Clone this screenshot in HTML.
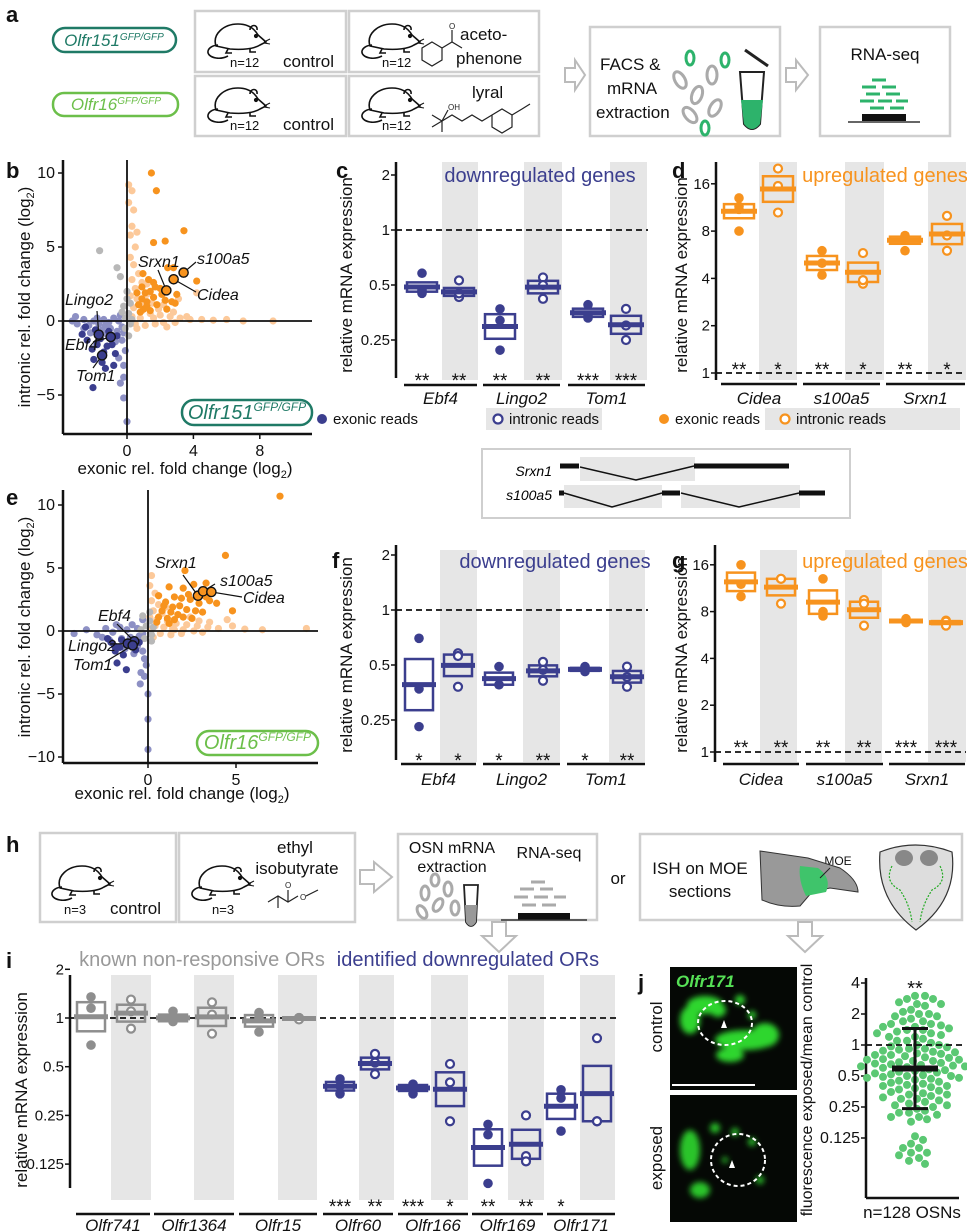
<!DOCTYPE html>
<html><head><meta charset="utf-8">
<style>
html,body{margin:0;padding:0;background:#fff;}
svg{display:block;font-family:"Liberation Sans",Arial,sans-serif;}
.it{font-style:italic;}
</style></head>
<body>
<svg id="fig" width="967" height="1232" viewBox="0 0 967 1232" xmlns="http://www.w3.org/2000/svg">
<defs>
<filter id="blur3" x="-50%" y="-50%" width="200%" height="200%"><feGaussianBlur stdDeviation="3"/></filter>
</defs>

<g font-weight="bold" font-size="22" fill="#111">
<text x="6" y="22">a</text>
<text x="6" y="178">b</text>
<text x="336" y="178">c</text>
<text x="672" y="178">d</text>
<text x="6" y="505">e</text>
<text x="332" y="568">f</text>
<text x="672" y="568">g</text>
<text x="6" y="852">h</text>
<text x="6" y="968">i</text>
<text x="638" y="990">j</text>
</g>

<g id="panelA">
<rect x="53" y="28" width="123" height="24" rx="12" fill="none" stroke="#1f7a66" stroke-width="2.5"/>
<text x="114" y="46" text-anchor="middle" fill="#1f7a66" font-size="17" class="it">Olfr151<tspan font-size="10" dy="-6">GFP/GFP</tspan></text>
<rect x="53" y="93" width="125" height="23" rx="11" fill="none" stroke="#6cbf4a" stroke-width="2.5"/>
<text x="116" y="110" text-anchor="middle" fill="#6cbf4a" font-size="17" class="it">Olfr16<tspan font-size="10" dy="-6">GFP/GFP</tspan></text>
<g fill="none" stroke="#cfcfcf" stroke-width="2.5">
<rect x="195" y="11" width="151" height="61"/>
<rect x="349" y="11" width="190" height="61"/>
<rect x="195" y="76" width="151" height="60"/>
<rect x="349" y="76" width="190" height="60"/>
<rect x="590" y="27" width="190" height="109"/>
<rect x="820" y="27" width="130" height="109"/>
</g>
<g font-size="17" fill="#111">
<text x="230" y="67" font-size="13">n=12</text>
<text x="283" y="67">control</text>
<text x="382" y="67" font-size="13">n=12</text>
<text x="460" y="40">aceto-</text>
<text x="456" y="64">phenone</text>
<text x="230" y="130" font-size="13">n=12</text>
<text x="283" y="130">control</text>
<text x="382" y="130" font-size="13">n=12</text>
<text x="472" y="98">lyral</text>
<text x="600" y="70">FACS &amp;</text>
<text x="607" y="94">mRNA</text>
<text x="596" y="118">extraction</text>
<text x="885" y="60" text-anchor="middle">RNA-seq</text>
</g>
<g fill="none" stroke="#222" stroke-width="1.2">
<polygon points="432,42 442,48 442,60 432,66 422,60 422,48"/>
<polyline points="442,48 452,42 462,48"/><line x1="452" y1="42" x2="452" y2="30"/>
<text x="449" y="29" font-size="8" fill="#222" stroke="none">O</text>
</g>
<g fill="none" stroke="#222" stroke-width="1.2">
<polyline points="432,115 442,121 452,115 462,121 472,115 482,121 492,115"/>
<line x1="442" y1="121" x2="442" y2="132"/><line x1="442" y1="121" x2="432" y2="127"/>
<line x1="442" y1="121" x2="448" y2="110"/>
<text x="448" y="110" font-size="8" fill="#222" stroke="none">OH</text>
<polygon points="492,115 502,109 512,115 512,127 502,133 492,127"/>
<polyline points="512,115 522,109 530,104"/>
</g>
<g>
<ellipse cx="680" cy="80" rx="5" ry="9" fill="none" stroke="#aaa" stroke-width="3" transform="rotate(-30 680 80)"/>
<ellipse cx="697" cy="95" rx="5" ry="9" fill="none" stroke="#aaa" stroke-width="3" transform="rotate(20 697 95)"/>
<ellipse cx="712" cy="75" rx="5" ry="9" fill="none" stroke="#aaa" stroke-width="3"/>
<ellipse cx="690" cy="115" rx="5" ry="9" fill="none" stroke="#aaa" stroke-width="3" transform="rotate(-40 690 115)"/>
<ellipse cx="715" cy="108" rx="5" ry="9" fill="none" stroke="#aaa" stroke-width="3" transform="rotate(30 715 108)"/>
<ellipse cx="690" cy="58" rx="4" ry="7" fill="none" stroke="#2db36b" stroke-width="3"/>
<ellipse cx="725" cy="60" rx="4" ry="7" fill="none" stroke="#2db36b" stroke-width="3"/>
<ellipse cx="705" cy="128" rx="4" ry="7" fill="none" stroke="#2db36b" stroke-width="3"/>
<path d="M740,72 L764,72 L760,124 Q752,134 744,124 Z" fill="#fff" stroke="#222" stroke-width="2"/>
<path d="M741,100 L763,100 L760,124 Q752,134 744,124 Z" fill="#2db36b"/>
<line x1="745" y1="50" x2="768" y2="66" stroke="#222" stroke-width="3"/>
</g>
<g stroke="#2db36b" stroke-width="3">
<line x1="872" y1="80" x2="886" y2="80"/><line x1="862" y1="87" x2="876" y2="87"/><line x1="882" y1="87" x2="896" y2="87"/>
<line x1="866" y1="94" x2="880" y2="94"/><line x1="886" y1="94" x2="900" y2="94"/>
<line x1="860" y1="101" x2="874" y2="101"/><line x1="878" y1="101" x2="892" y2="101"/><line x1="896" y1="101" x2="908" y2="101"/>
<line x1="870" y1="108" x2="884" y2="108"/><line x1="890" y1="108" x2="904" y2="108"/>
</g>
<rect x="862" y="114" width="44" height="7" fill="#111"/>
<line x1="848" y1="122" x2="920" y2="122" stroke="#333" stroke-width="1.5"/>
<polygon points="565,68 575,68 575,60 585,75 575,90 575,82 565,82" fill="#fff" stroke="#bbb" stroke-width="2"/>
<polygon points="786,68 796,68 796,60 808,75 796,90 796,82 786,82" fill="#fff" stroke="#bbb" stroke-width="2"/>
</g>

<g>
<rect x="482" y="449" width="368" height="69" fill="none" stroke="#cfcfcf" stroke-width="2"/>
<rect x="580" y="457" width="115" height="24" fill="#e6e6e6"/>
<rect x="564" y="485" width="98" height="23" fill="#e6e6e6"/>
<rect x="681" y="485" width="119" height="23" fill="#e6e6e6"/>
<text x="552" y="476" text-anchor="end" font-size="14" class="it">Srxn1</text>
<text x="552" y="500" text-anchor="end" font-size="14" class="it">s100a5</text>
<g stroke="#111" fill="none">
<line x1="560" y1="466" x2="579" y2="466" stroke-width="5"/>
<polyline points="580,467 636,480 694,466" stroke-width="1.5"/>
<line x1="694" y1="466" x2="789" y2="466" stroke-width="5"/>
<line x1="559" y1="493" x2="564" y2="493" stroke-width="5"/>
<polyline points="564,493 612,507 662,493" stroke-width="1.5"/>
<line x1="662" y1="493" x2="680" y2="493" stroke-width="5"/>
<polyline points="681,493 739,507 799,493" stroke-width="1.5"/>
<line x1="799" y1="493" x2="825" y2="493" stroke-width="5"/>
</g>
</g>

<g id="panelH">
<g fill="none" stroke="#cfcfcf" stroke-width="2.5">
<rect x="40" y="833" width="136" height="89"/>
<rect x="179" y="833" width="176" height="89"/>
<rect x="398" y="834" width="199" height="86"/>
<rect x="640" y="834" width="322" height="86"/>
</g>
<g font-size="17" fill="#111">
<text x="64" y="914" font-size="13">n=3</text>
<text x="110" y="914">control</text>
<text x="212" y="914" font-size="13">n=3</text>
<text x="295" y="853" text-anchor="middle">ethyl</text>
<text x="297" y="874" text-anchor="middle">isobutyrate</text>
<text x="452" y="853" text-anchor="middle" font-size="16">OSN mRNA</text>
<text x="452" y="872" text-anchor="middle" font-size="16">extraction</text>
<text x="549" y="858" text-anchor="middle" font-size="16">RNA-seq</text>
<text x="618" y="884" text-anchor="middle">or</text>
<text x="700" y="874" text-anchor="middle">ISH on MOE</text>
<text x="700" y="897" text-anchor="middle">sections</text>
<text x="838" y="865" text-anchor="middle" font-size="12">MOE</text>
</g>
<g fill="none" stroke="#222" stroke-width="1.2">
<polyline points="268,902 278,896 288,902 298,896"/><line x1="278" y1="896" x2="278" y2="908"/>
<line x1="288" y1="902" x2="288" y2="890"/><text x="285" y="888" font-size="8" fill="#222" stroke="none">O</text>
<text x="300" y="900" font-size="8" fill="#222" stroke="none">O</text><line x1="306" y1="896" x2="318" y2="890"/>
</g>
<g fill="none" stroke="#aaa" stroke-width="3">
<ellipse cx="425" cy="893" rx="4" ry="7"/><ellipse cx="438" cy="905" rx="4" ry="7" transform="rotate(30 438 905)"/>
<ellipse cx="448" cy="889" rx="4" ry="7"/><ellipse cx="422" cy="912" rx="4" ry="7" transform="rotate(-30 422 912)"/>
<ellipse cx="455" cy="908" rx="4" ry="7"/><ellipse cx="435" cy="880" rx="4" ry="6"/>
</g>
<path d="M464,885 L478,885 L476,922 Q471,930 466,922 Z" fill="#fff" stroke="#222" stroke-width="1.8"/>
<path d="M465,905 L477,905 L476,922 Q471,930 466,922 Z" fill="#999"/>
<g stroke="#aaa" stroke-width="3">
<line x1="531" y1="882" x2="545" y2="882"/><line x1="520" y1="889" x2="534" y2="889"/><line x1="540" y1="889" x2="553" y2="889"/>
<line x1="514" y1="897" x2="528" y2="897"/><line x1="534" y1="897" x2="548" y2="897"/><line x1="554" y1="897" x2="566" y2="897"/>
<line x1="522" y1="905" x2="536" y2="905"/><line x1="542" y1="905" x2="556" y2="905"/>
</g>
<rect x="518" y="913" width="52" height="7" fill="#111"/>
<line x1="501" y1="920" x2="587" y2="920" stroke="#333" stroke-width="1.5"/>
<g>
<path d="M760,851 L808,858 L840,868 Q858,880 858,892 L830,888 L812,892 L800,906 Q780,908 762,900 Z" fill="#999" stroke="#333" stroke-width="1"/>
<path d="M800,866 L818,868 Q832,878 826,892 L806,896 Q798,880 800,866 Z" fill="#3fc46b"/>
<line x1="830" y1="868" x2="820" y2="878" stroke="#222"/>
</g>
<g>
<path d="M880,852 Q915,838 952,852 Q958,900 916,930 Q876,900 880,852 Z" fill="#ddd" stroke="#333" stroke-width="1.2"/>
<ellipse cx="904" cy="858" rx="9" ry="8" fill="#888"/><ellipse cx="929" cy="858" rx="9" ry="8" fill="#888"/>
<path d="M892,866 Q884,882 900,890 Q910,905 912,922 M940,866 Q948,882 932,890 Q922,905 920,922" fill="none" stroke="#2a2" stroke-width="1.2" stroke-dasharray="2,1.5"/>
</g>
<polygon points="360,870 374,870 374,862 392,877 374,892 374,884 360,884" fill="#fff" stroke="#bbb" stroke-width="2"/>
<polygon points="492,922 506,922 506,936 516,936 499,952 482,936 492,936" fill="#fff" stroke="#bbb" stroke-width="2"/>
<polygon points="798,922 812,922 812,936 822,936 805,952 788,936 798,936" fill="#fff" stroke="#bbb" stroke-width="2"/>
</g>

<g font-size="17" fill="#111">
<text transform="translate(30,297) rotate(-90)" text-anchor="middle">intronic rel. fold change (log<tspan font-size="11" dy="4">2</tspan><tspan dy="-4">)</tspan></text>
<text x="185" y="474" text-anchor="middle">exonic rel. fold change (log<tspan font-size="11" dy="4">2</tspan><tspan dy="-4">)</tspan></text>
<text transform="translate(30,627) rotate(-90)" text-anchor="middle">intronic rel. fold change (log<tspan font-size="11" dy="4">2</tspan><tspan dy="-4">)</tspan></text>
<text x="182" y="799" text-anchor="middle">exonic rel. fold change (log<tspan font-size="11" dy="4">2</tspan><tspan dy="-4">)</tspan></text>
<text transform="translate(352,275) rotate(-90)" text-anchor="middle">relative mRNA expression</text>
<text transform="translate(687,275) rotate(-90)" text-anchor="middle">relative mRNA expression</text>
<text transform="translate(352,655) rotate(-90)" text-anchor="middle">relative mRNA expression</text>
<text transform="translate(687,655) rotate(-90)" text-anchor="middle">relative mRNA expression</text>
<text transform="translate(27,1090) rotate(-90)" text-anchor="middle">relative mRNA expression</text>
<text transform="translate(812,1090) rotate(-90)" text-anchor="middle" font-size="16">fluorescence exposed/mean control</text>
<text x="912" y="1218" text-anchor="middle">n=128 OSNs</text>
<text transform="translate(662,1027) rotate(-90)" text-anchor="middle">control</text>
<text transform="translate(662,1158) rotate(-90)" text-anchor="middle">exposed</text>
</g>

<g id="charts"></g>

<g id="titles" font-size="20">
<text x="540" y="182" text-anchor="middle" fill="#3b3e8e">downregulated genes</text>
<text x="885" y="182" text-anchor="middle" fill="#f7931e">upregulated genes</text>
<text x="555" y="568" text-anchor="middle" fill="#3b3e8e">downregulated genes</text>
<text x="885" y="568" text-anchor="middle" fill="#f7931e">upregulated genes</text>
<text x="202" y="966" text-anchor="middle" fill="#999">known non-responsive ORs</text>
<text x="468" y="966" text-anchor="middle" fill="#3b3e8e">identified downregulated ORs</text>
</g>

<g font-size="15" fill="#111">
<circle cx="322" cy="419" r="5" fill="#3b3e8e"/>
<text x="333" y="424">exonic reads</text>
<rect x="486" y="408" width="116" height="22" fill="#e6e6e6"/>
<circle cx="498" cy="419" r="4.5" fill="#fff" stroke="#3b3e8e" stroke-width="2.2"/>
<text x="509" y="424">intronic reads</text>
<circle cx="664" cy="419" r="5" fill="#f7931e"/>
<text x="675" y="424">exonic reads</text>
<rect x="765" y="408" width="195" height="22" fill="#e6e6e6"/>
<circle cx="785" cy="419" r="4.5" fill="#fff" stroke="#f7931e" stroke-width="2.2"/>
<text x="796" y="424">intronic reads</text>
</g>

<g>
<rect x="670" y="967" width="127" height="123" fill="#050805"/>
<g fill="#2fd62f" filter="url(#blur3)">
<ellipse cx="745" cy="1040" rx="30" ry="10"/><ellipse cx="765" cy="1035" rx="14" ry="12"/>
<ellipse cx="705" cy="1005" rx="18" ry="9"/><ellipse cx="718" cy="1010" rx="8" ry="7"/>
<ellipse cx="730" cy="1055" rx="14" ry="7"/><ellipse cx="690" cy="1020" rx="10" ry="14"/>
<circle cx="740" cy="1000" r="5"/><circle cx="752" cy="1015" r="4"/>
</g>
<ellipse cx="725" cy="1023" rx="27" ry="22" fill="none" stroke="#fff" stroke-width="2" stroke-dasharray="4,3"/>
<polygon points="724,1020 727,1028 721,1028" fill="#fff"/>
<line x1="672" y1="1085" x2="755" y2="1085" stroke="#fff" stroke-width="2"/>
<text x="676" y="987" fill="#56e056" font-size="17" font-weight="bold" class="it">Olfr171</text>
</g>
<g>
<rect x="670" y="1095" width="127" height="127" fill="#050805"/>
<g fill="#2bc42b" filter="url(#blur3)">
<ellipse cx="690" cy="1150" rx="10" ry="20"/><ellipse cx="700" cy="1190" rx="10" ry="8"/>
<circle cx="715" cy="1128" r="5"/><circle cx="735" cy="1132" r="4"/><circle cx="752" cy="1142" r="4"/>
<circle cx="725" cy="1160" r="3"/><circle cx="760" cy="1180" r="4"/>
</g>
<ellipse cx="738" cy="1160" rx="27" ry="26" fill="none" stroke="#fff" stroke-width="2" stroke-dasharray="4,3"/>
<polygon points="732,1160 735,1168 729,1168" fill="#fff"/>
</g>
</svg>

<script>
// ===================== DATA =====================
const bLightOrange=[[0.1,9.2],[0.3,8.8],[0.1,8],[0.4,7.5],[0.3,6.4],[0.6,6],[0.2,5.8],[0.5,5],[0.2,4.3],[0.4,3.8],[0.7,3.2],[0.3,2.8],[0.9,2.6],[0.5,2.2],[1.2,2.5],[0.2,1.7],[0.6,1.5],[1.5,1.2],[2.2,1.1],[3.1,1.5],[0.4,0.9],[0.9,0.7],[1.4,0.5],[2,0.4],[2.6,0.3],[3.2,0.2],[3.8,0.1],[4.5,0.1],[5.2,0.05],[6,0.1],[7,0],[8.8,0],[1.1,-0.3],[1.7,-0.2],[2.4,-0.4],[0.6,-0.5],[1.9,0.8],[2.8,0.6],[0.3,0.3],[0.8,0.2],[1.2,1.8],[4.2,1.9],[3.6,0.3],[2.9,-0.1],[0.5,-0.2],[1.6,0.2],[2.2,-0.1],[1,1.1]];
const bOrange=[[1.47,10],[1.77,8.8],[3.43,6.1],[2.3,5.4],[1.6,5.3],[2.45,3.6],[2.8,3.6],[0.96,3.2],[4.2,2.7],[1.6,2.6],[2,2.2],[1.4,2],[0.6,1.9],[0.9,1.5],[1.2,1.3],[1.6,1.6],[1.8,1.1],[2.3,1.4],[0.7,1.1],[1,0.8],[1.4,0.7],[2.7,1.3],[3,1.8],[1.3,2.8],[2.4,0.8],[0.8,0.6],[1.1,1.9],[1.7,2.3],[2.9,1.2],[2.1,1.8],[1.2,1.0],[0.9,2.3]];
const bLightNavy=[[-3.3,0],[-3,-0.2],[-2.6,0.1],[-2.3,-0.3],[-2,0],[-1.7,-0.2],[-1.4,0.1],[-1.1,-0.1],[-0.8,0.2],[-0.5,0],[-0.3,-0.4],[-0.6,-0.7],[-1,-0.5],[-1.5,-0.6],[-2.2,-0.8],[-0.3,-1.3],[-0.1,-2],[-0.5,-2.5],[-0.2,-3],[-0.2,-3.8],[-0.4,-4.2],[-0.2,-5.2],[0,-6.8],[-1.3,-0.3],[-0.7,-1.4],[-1.8,0.2],[-0.4,0.4],[-3.1,0.3],[-0.9,-1.1],[-0.2,-0.8],[-1.2,-0.9],[-2.6,-0.5]];
const bNavy=[[-2.05,-4.5],[-1.3,-3.2],[-1.5,-2.8],[-2.1,-1.9],[-1.8,-1.6],[-1.2,-1.7],[-0.9,-1.6],[-0.7,-2.2],[-2.4,-1.3],[-2.7,-0.9],[-1.9,-0.6],[-1.1,-0.7],[-0.6,-1],[-1.4,-2.1],[-2,-2.6],[-0.8,-3],[-1.6,-1.2],[-2.5,-0.4]];
const bGray=[[-1.65,4.75],[-0.6,3.6],[-0.4,3],[0,2],[0,1.5],[-0.2,1],[0.1,0.5],[0.2,-0.2],[-0.1,-0.5],[0.3,0.1],[0.1,-1],[-0.3,0.6],[0.2,1.2],[-0.1,0.2]];
const bHighlightNames=['s100a5','Cidea','Srxn1','Lingo2','Ebf4','Tom1'];
const bHighlightX=[3.41,2.81,2.37,-1.7,-0.98,-1.5];
const bHighlightY=[3.27,2.82,2.07,-0.92,-1.08,-2.32];
const eLightOrange=[[0.2,4.4],[0.1,3.6],[0.4,3],[0.2,2.4],[0.6,2.1],[0.3,1.6],[0.8,1.4],[0.1,1.1],[0.5,0.9],[1.1,0.8],[1.6,0.6],[2.2,0.5],[2.8,0.4],[3.4,0.3],[4,0.2],[4.8,0.4],[5.5,0.15],[6.5,0.1],[9,0.2],[0.4,0.4],[0.9,0.3],[1.4,0.2],[2,0.1],[2.6,0],[3.1,-0.1],[0.7,-0.2],[1.3,-0.3],[1.9,-0.2],[0.3,-0.5],[1.7,1.3],[2.4,1.1],[1,1.9],[3.5,0.7],[4.5,0.9],[0.6,2.8],[1.5,0.1],[2.9,0.8],[0.2,0.1]];
const eOrange=[[7.5,10.7],[4.4,6],[2.1,4.8],[4.8,1.6],[1.2,3.5],[0.6,2.8],[2,3.4],[2.6,3.7],[3.3,3.8],[1.5,2.7],[1,2.3],[1.8,2],[2.4,2.5],[2.9,2.2],[3.5,2.4],[0.8,1.6],[1.3,1.5],[1.7,1.3],[2.2,1.7],[2.7,1.6],[3.1,1.5],[0.6,1.1],[1.1,1],[1.5,0.9],[2,1.1],[2.5,1],[0.9,2],[1.4,1.9],[3.9,2.2],[2.3,2.9],[1.9,2.6],[0.5,0.7],[1.2,0.6],[3.3,2.7]];
const eLightNavy=[[-4.2,-0.2],[-2.9,-0.3],[-3.5,0.1],[-2.4,0.2],[-2,-0.1],[-1.6,0.3],[-1.2,0.1],[-0.9,0.5],[-0.6,0.2],[-0.3,0.9],[-0.5,-0.4],[-1,-0.5],[-1.5,-0.6],[-2.2,-0.7],[-1.3,-1.4],[-0.6,-1.2],[-0.3,-1.6],[-0.2,-2.2],[-0.1,-2.7],[-0.4,-3.3],[-0.44,-4.2],[-0.2,-3.6],[0,-5],[0,-7],[0,-9.4],[-0.8,-1.8],[-0.3,-0.2],[-1.8,0.5],[-2.6,-0.5],[-0.7,-0.9]];
const eNavy=[[-1.76,-2.54],[-1.23,-3.07],[-1.86,-1.59],[-2.1,-0.9],[-1.5,-0.7],[-1.9,-1.2],[-1.4,-1.9],[-0.7,-1.5],[-0.5,-0.9],[-1.6,-1.3],[-2.3,-0.6]];
const eGray=[[-0.3,1.2],[0.1,0.8],[-0.1,0.4],[0.2,-0.3],[-0.2,-0.6],[0.3,0.3],[-0.4,0.1],[0.1,1.5],[0.2,-0.8]];
const eHighlightNames=['Srxn1','s100a5','Cidea','Ebf4','Lingo2','Tom1'];
const eHighlightX=[2.84,3.13,3.6,-0.78,-1.15,-0.87];
const eHighlightY=[2.8,3.15,3.1,-0.82,-1.0,-1.14];

const cGenes=['Ebf4','Lingo2','Tom1'];
const cExonic=[[0.58,0.45,0.46,0.47],[0.37,0.32,0.22],[0.39,0.33,0.34]];
const cIntronic=[[0.53,0.43,0.43,0.45],[0.55,0.5,0.42],[0.37,0.3,0.25]];
const cStars=['**','**','**','**','***','***'];
const cTicks=[2,1,0.5,0.25];
const cTickLabels=['2','1','0.5','0.25'];
const dGenes=['Cidea','s100a5','Srxn1'];
const dExonic=[[13,8,11,11.5],[6,5,4.2],[7.5,7.2,6,7.4]];
const dIntronic=[[20,15.5,10.5],[5.8,3.7,3.9],[10,7.5,6]];
const dStars=['**','*','**','*','**','*'];
const dTicks=[16,8,4,2,1];
const dTickLabels=['16','8','4','2','1'];
const fGenes=['Ebf4','Lingo2','Tom1'];
const fExonic=[[0.7,0.37,0.23],[0.49,0.39,0.39],[0.49,0.46,0.47]];
const fIntronic=[[0.58,0.56,0.38],[0.52,0.47,0.41],[0.49,0.43,0.38]];
const fStars=['*','*','*','**','*','**'];
const fTicks=[2,1,0.5,0.25];
const fTickLabels=['2','1','0.5','0.25'];
const gGenes=['Cidea','s100a5','Srxn1'];
const gExonic=[[16,12,10],[13,8,7.5],[7.2,6.8,6.9]];
const gIntronic=[[13,13,9],[9.5,9,6.5],[7,6.9,6.5]];
const gStars=['**','**','**','**','***','***'];
const gTicks=[16,8,4,2,1];
const gTickLabels=['16','8','4','2','1'];
const iGenes=['Olfr741','Olfr1364','Olfr15','Olfr60','Olfr166','Olfr169','Olfr171'];
const iExonic=[[1.35,1.15,0.68],[1.1,0.95,0.96],[1.08,1.0,0.82],[0.42,0.38,0.34],[0.39,0.38,0.34],[0.22,0.19,0.095],[0.36,0.32,0.2]];
const iIntronic=[[1.3,1.1,0.86],[1.25,1.05,0.8],[1.0,1.0,0.98],[0.6,0.53,0.45],[0.52,0.4,0.23],[0.25,0.14,0.13],[0.75,0.23,0.23]];
const iStars=['','','','','','','***','**','***','*','**','**','*',''];
const iTicks=[2,1,0.5,0.25,0.125];
const iTickLabels=['2','1','0.5','0.25','0.125'];
const jValues=[3.0,3.0,2.8,2.8,2.6,2.5,2.5,2.4,2.2,2.1,2.0,2.0,1.9,1.9,1.8,1.7,1.7,1.6,1.6,1.55,1.5,1.5,1.45,1.4,1.4,1.35,1.3,1.3,1.25,1.2,1.15,1.1,1.1,1.05,1.0,1.0,0.97,0.95,0.92,0.9,0.88,0.86,0.85,0.83,0.8,0.8,0.78,0.76,0.75,0.73,0.72,0.7,0.7,0.68,0.67,0.66,0.65,0.64,0.63,0.62,0.61,0.6,0.6,0.58,0.57,0.56,0.55,0.54,0.53,0.52,0.51,0.5,0.5,0.49,0.48,0.47,0.46,0.45,0.44,0.43,0.42,0.41,0.4,0.4,0.39,0.38,0.37,0.36,0.35,0.34,0.33,0.33,0.32,0.31,0.3,0.3,0.29,0.28,0.27,0.26,0.26,0.25,0.24,0.23,0.22,0.22,0.21,0.2,0.2,0.19,0.18,0.13,0.12,0.11,0.1,0.1,0.09,0.09,0.085,0.08,0.075,0.07,0.62,0.72,0.82,0.92,1.2,0.48];
const jTicks=[4,2,1,0.5,0.25,0.125];
const jTickLabels=['4','2','1','0.5','0.25','0.125'];
const jStars='**';

// ===================== DRAWING =====================
const NS='http://www.w3.org/2000/svg';
const root=document.getElementById('charts');
function mk(tag,attrs,parent){const e=document.createElementNS(NS,tag);for(const k in attrs)e.setAttribute(k,attrs[k]);(parent||root).appendChild(e);return e;}
const NAVY='#3b3e8e',ORANGE='#f7931e',GRAYC='#8e8e8e',BAND='#e6e6e6';

function scatterPanel(P){
  const g=mk('g',{});
  
  
  const X=v=>P.x0+P.sx*v, Y=v=>P.y0-P.sy*v;
  const ya=mk('line',{x1:P.axX,y1:P.top,x2:P.axX,y2:P.bot,stroke:'#111','stroke-width':2.5},g);
  
  
  const xa=mk('line',{x1:P.axX,y1:P.bot,x2:P.right,y2:P.bot,stroke:'#111','stroke-width':2.5},g);
  
  
  P.yTicks.forEach(t=>{
    mk('line',{x1:P.axX-5,y1:Y(t),x2:P.axX,y2:Y(t),stroke:'#111','stroke-width':1.5},g);
    const tx=mk('text',{x:P.axX-8,y:Y(t)+5,'text-anchor':'end','font-size':16,fill:'#111'},g);
    tx.textContent=(t<0?'\u2212'+(-t):String(t));
    
    
  });
  P.xTicks.forEach(t=>{
    mk('line',{x1:X(t),y1:P.bot,x2:X(t),y2:P.bot+5,stroke:'#111','stroke-width':1.5},g);
    const tx=mk('text',{x:X(t),y:P.bot+22,'text-anchor':'middle','font-size':16,fill:'#111'},g);
    tx.textContent=String(t);
    
    
  });
  const groups=[[P.lo,'#fcc99a','point-up-ns'],[P.ln,'#8d90c4','point-down-ns'],[P.gr,'#b8b8b8','point-ns'],[P.or,ORANGE,'point-up-sig'],[P.nv,NAVY,'point-down-sig']];
  groups.forEach(([arr,col,nm])=>{
    arr.forEach(p=>{
      const c=mk('circle',{cx:X(p[0]),cy:Y(p[1]),r:3.6,fill:col},g);
      
      
    });
  });
  mk('line',{x1:X(0),y1:P.top,x2:X(0),y2:P.bot,stroke:'#111','stroke-width':1.8},g);
  mk('line',{x1:P.axX,y1:Y(0),x2:P.right,y2:Y(0),stroke:'#111','stroke-width':1.8},g);
  P.hn.forEach((n,i)=>{
    const px=X(P.hx[i]),py=Y(P.hy[i]);
    const L=P.labels[i];
    mk('line',{x1:L[2],y1:L[3],x2:px,y2:py,stroke:'#111','stroke-width':1.2},g);
    const col=P.hx[i]>0?ORANGE:NAVY;
    const c=mk('circle',{cx:px,cy:py,r:4.6,fill:col,stroke:'#111','stroke-width':1.4},g);
    
    
    const t=mk('text',{x:L[0],y:L[1],'font-size':16,'font-style':'italic',fill:'#111'},g);
    t.textContent=n;
    
    
  });
  const bx=mk('rect',{x:P.box[0],y:P.box[1],width:P.box[2],height:P.box[3],rx:12,fill:'#fff',stroke:P.boxCol,'stroke-width':2.5},g);
  
  
  const bt=mk('text',{x:P.box[0]+P.box[2]/2,y:P.box[1]+P.box[3]-6,'text-anchor':'middle','font-size':20,'font-style':'italic',fill:P.boxCol},g);
  bt.textContent=P.boxText;
  const sup=mk('tspan',{'font-size':12,dy:-8},bt);
  sup.textContent='GFP/GFP';
  
  
}

scatterPanel({name:'panel-b-scatter',x0:127,sx:16.6,y0:321,sy:14.8,axX:63,top:160,bot:434,right:312,
  yTicks:[10,5,0,-5],xTicks:[0,4,8],lo:bLightOrange,or:bOrange,ln:bLightNavy,nv:bNavy,gr:bGray,
  hn:bHighlightNames,hx:bHighlightX,hy:bHighlightY,
  labels:[[197,264,196,262],[197,300,196,292],[138,267,158,270],[65,305,97,311],[65,350,93,342],[76,381,93,368]],
  box:[182,400,130,25],boxCol:'#1f7a66',boxText:'Olfr151'});
scatterPanel({name:'panel-e-scatter',x0:148,sx:17.6,y0:631,sy:12.6,axX:63,top:490,bot:763,right:318,
  yTicks:[10,5,0,-5,-10],xTicks:[0,5],lo:eLightOrange,or:eOrange,ln:eLightNavy,nv:eNavy,gr:eGray,
  hn:eHighlightNames,hx:eHighlightX,hy:eHighlightY,
  labels:[[155,568,183,575],[220,586,215,584],[243,603,242,597],[98,621,117,624],[68,651,110,644],[73,670,105,662]],
  box:[197,731,121,24],boxCol:'#6cbf4a',boxText:'Olfr16'});

function log2(v){return Math.log(v)/Math.LN2;}
function exprPanel(P){
  const g=mk('g',{});
  
  
  const Y=v=>P.y1-P.ppd*log2(v);
  P.bands.forEach(b=>{
    const r=mk('rect',{x:b[0],y:P.bandTop,width:b[1]-b[0],height:P.bandBot-P.bandTop,fill:BAND},g);
    
    
  });
  const ax=mk('line',{x1:P.ax,y1:P.top,x2:P.ax,y2:P.bot,stroke:'#111','stroke-width':2.5},g);
  
  
  P.ticks.forEach((t,i)=>{
    mk('line',{x1:P.ax-5,y1:Y(t),x2:P.ax,y2:Y(t),stroke:'#111','stroke-width':1.5},g);
    const tx=mk('text',{x:P.ax-6,y:Y(t)+5,'text-anchor':'end','font-size':15,fill:'#111'},g);
    tx.textContent=P.tickLabels[i];
    
    
  });
  const ref=mk('line',{x1:P.ax,y1:Y(1),x2:P.xr,y2:Y(1),stroke:'#111','stroke-width':1.8,'stroke-dasharray':'6,4'},g);
  
  
  const nG=P.genes.length;
  for(let k=0;k<nG*2;k++){
    const gi=Math.floor(k/2), intr=k%2===1;
    const vals=intr?P.intronic[gi]:P.exonic[gi];
    const col=P.colors?P.colors[gi]:P.color;
    const cx=P.centers[k];
    const logs=vals.map(log2);
    const m=logs.reduce((a,b)=>a+b,0)/logs.length;
    const sd=Math.sqrt(logs.reduce((a,b)=>a+(b-m)*(b-m),0)/(logs.length-1));
    const se=sd/Math.sqrt(logs.length);
    const yTop=P.y1-P.ppd*(m+se), yBot=P.y1-P.ppd*(m-se), yM=P.y1-P.ppd*m;
    const bw=P.boxW;
    const rb=mk('rect',{x:cx-bw/2,y:yTop,width:bw,height:Math.max(yBot-yTop,1),fill:'none',stroke:col,'stroke-width':2.5},g);
    
    
    vals.forEach(v=>{
      const c=mk('circle',{cx:cx,cy:Y(v),r:intr?4:4.8,fill:intr?'#fff':col,stroke:col,'stroke-width':intr?2.2:0},g);
      
      
    });
    const ml=mk('line',{x1:cx-bw/2-3,y1:yM,x2:cx+bw/2+3,y2:yM,stroke:col,'stroke-width':5},g);
    
    
    const s=P.stars[k];
    if(s){
      const st=mk('text',{x:cx,y:P.starY+9,'text-anchor':'middle','font-size':19,fill:'#111'},g);
      st.textContent=s;
      
      
    }
  }
  P.spans.forEach((sp,gi)=>{
    mk('line',{x1:sp[0],y1:P.lineY,x2:sp[1],y2:P.lineY,stroke:'#111','stroke-width':2.5},g);
    const t=mk('text',{x:(sp[0]+sp[1])/2,y:P.labelY,'text-anchor':'middle','font-size':P.labelSize||17,'font-style':'italic',fill:'#111'},g);
    t.textContent=P.genes[gi];
    
    
  });
}

exprPanel({name:'panel-c-downregulated',ax:396,top:162,bot:378,y1:230,ppd:55,xr:648,ticks:cTicks,tickLabels:cTickLabels,
  bands:[[442,478],[524,562],[610,647]],bandTop:162,bandBot:380,centers:[422,459,500,543,588,626],
  genes:cGenes,exonic:cExonic,intronic:cIntronic,stars:cStars,starY:378,lineY:385,labelY:404,
  spans:[[404,477],[483,560],[568,645]],color:NAVY,boxW:30});
exprPanel({name:'panel-d-upregulated',ax:716,top:162,bot:380,y1:373,ppd:47.3,xr:966,ticks:dTicks,tickLabels:dTickLabels,
  bands:[[759,797],[845,884],[928,966]],bandTop:162,bandBot:380,centers:[739,778,822,863,905,947],
  genes:dGenes,exonic:dExonic,intronic:dIntronic,stars:dStars,starY:367,lineY:384,labelY:404,
  spans:[[721,797],[803,880],[886,965]],color:ORANGE,boxW:30});
exprPanel({name:'panel-f-downregulated',ax:396,top:545,bot:760,y1:610,ppd:55,xr:648,ticks:fTicks,tickLabels:fTickLabels,
  bands:[[440,477],[523,560],[609,645]],bandTop:550,bandBot:762,centers:[419,458,499,543,585,627],
  genes:fGenes,exonic:fExonic,intronic:fIntronic,stars:fStars,starY:758,lineY:764,labelY:785,
  spans:[[401,476],[483,560],[567,645]],color:NAVY,boxW:28});
exprPanel({name:'panel-g-upregulated',ax:715,top:545,bot:762,y1:752,ppd:46.8,xr:966,ticks:gTicks,tickLabels:gTickLabels,
  bands:[[760,797],[845,882],[928,966]],bandTop:550,bandBot:762,centers:[741,781,823,864,906,946],
  genes:gGenes,exonic:gExonic,intronic:gIntronic,stars:gStars,starY:745,lineY:764,labelY:785,
  spans:[[723,799],[806,883],[889,965]],color:ORANGE,boxW:28});
exprPanel({name:'panel-i-or-expression',ax:70,top:975,bot:1188,y1:1018,ppd:48.7,xr:618,ticks:iTicks,tickLabels:iTickLabels,
  bands:[[111,151],[194,234],[278,317],[359,394],[431,468],[508,544],[580,615]],bandTop:975,bandBot:1200,
  centers:[91,131,173,212,259,299,340,375,413,450,488,526,561,597],
  genes:iGenes,exonic:iExonic,intronic:iIntronic,stars:iStars,starY:1204,lineY:1214,labelY:1231,
  spans:[[76,150],[154,234],[239,317],[323,393],[398,468],[472,543],[547,615]],
  colors:[GRAYC,GRAYC,GRAYC,NAVY,NAVY,NAVY,NAVY],boxW:28,labelSize:17});

(function(){
  const g=mk('g',{});
  
  
  const ax=866, y1=1045, ppd=31, cx=915, bot=1198, r=4, minD=8.2;
  const Y=v=>y1-ppd*log2(v);
  const a=mk('line',{x1:ax,y1:978,x2:ax,y2:bot,stroke:'#111','stroke-width':2.5},g);
  
  
  const xa=mk('line',{x1:ax,y1:bot,x2:959,y2:bot,stroke:'#111','stroke-width':2.5},g);
  
  
  jTicks.forEach((t,i)=>{
    mk('line',{x1:ax-5,y1:Y(t),x2:ax,y2:Y(t),stroke:'#111','stroke-width':1.5},g);
    const tx=mk('text',{x:ax-6,y:Y(t)+5,'text-anchor':'end','font-size':16,fill:'#111'},g);
    tx.textContent=jTickLabels[i];
    
    
  });
  const placed=[];
  const sorted=jValues.slice().sort((p,q)=>q-p);
  sorted.forEach(v=>{
    const yy=Y(v); let k=0, xx=cx;
    while(true){
      const off=(k===0)?0:Math.ceil(k/2)*(k%2?1:-1)*2;
      xx=cx+off;
      if(placed.every(p=>(p[0]-xx)*(p[0]-xx)+(p[1]-yy)*(p[1]-yy)>=minD*minD))break;
      k++; if(k>60)break;
    }
    placed.push([xx,yy]);
    const c=mk('circle',{cx:xx,cy:yy,r:r,fill:'#5bc873'},g);
    
    
  });
  const ref=mk('line',{x1:ax,y1:Y(1),x2:962,y2:Y(1),stroke:'#111','stroke-width':1.8,'stroke-dasharray':'6,4'},g);
  
  
  const logs=jValues.map(log2);
  const m=logs.reduce((p,q)=>p+q,0)/logs.length;
  const sd=Math.sqrt(logs.reduce((p,q)=>p+(q-m)*(q-m),0)/(logs.length-1));
  const ex=cx;
  const eb=mk('line',{x1:ex,y1:y1-ppd*(m+sd),x2:ex,y2:y1-ppd*(m-sd),stroke:'#111','stroke-width':3},g);
  
  
  mk('line',{x1:ex-13,y1:y1-ppd*(m+sd),x2:ex+13,y2:y1-ppd*(m+sd),stroke:'#111','stroke-width':3},g);
  mk('line',{x1:ex-13,y1:y1-ppd*(m-sd),x2:ex+13,y2:y1-ppd*(m-sd),stroke:'#111','stroke-width':3},g);
  const ml=mk('line',{x1:ex-23,y1:y1-ppd*m,x2:ex+23,y2:y1-ppd*m,stroke:'#111','stroke-width':6},g);
  
  
  const st=mk('text',{x:cx,y:995,'text-anchor':'middle','font-size':20,fill:'#111'},g);
  st.textContent=jStars;
  
  
})();

function mouse(x,y,s,name){
  const g=mk('g',{transform:'translate('+x+','+y+') scale('+s+')',fill:'#fff',stroke:'#111','stroke-width':1.6},document.getElementById('fig'));
  
  
  mk('path',{d:'M10,26 C6,14 18,4 32,4 C42,4 48,8 52,15 L60,22 L54,25 C48,29 36,30 24,29 Z'},g);
  mk('path',{d:'M12,25 C0,26 -2,36 10,38 C16,39 20,37 22,36',fill:'none'},g);
  mk('path',{d:'M44,10 C44,4 52,4 51,10',fill:'none'},g);
  mk('circle',{cx:50,cy:16,r:1.3,fill:'#111'},g);
  mk('path',{d:'M58,22 L64,19 M58,23 L64,24',fill:'none','stroke-width':1},g);
  mk('path',{d:'M22,29 L20,33 L26,33 M44,28 L44,32 L50,32',fill:'none'},g);
}
mouse(206,20,1.0,'mouse-icon-1');
mouse(360,20,1.0,'mouse-icon-2');
mouse(206,84,1.0,'mouse-icon-3');
mouse(360,84,1.0,'mouse-icon-4');
mouse(50,862,1.0,'mouse-icon-h-1');
mouse(190,862,1.0,'mouse-icon-h-2');
document.getElementById('fig').appendChild(document.getElementById('titles'));
</script>
</body></html>
